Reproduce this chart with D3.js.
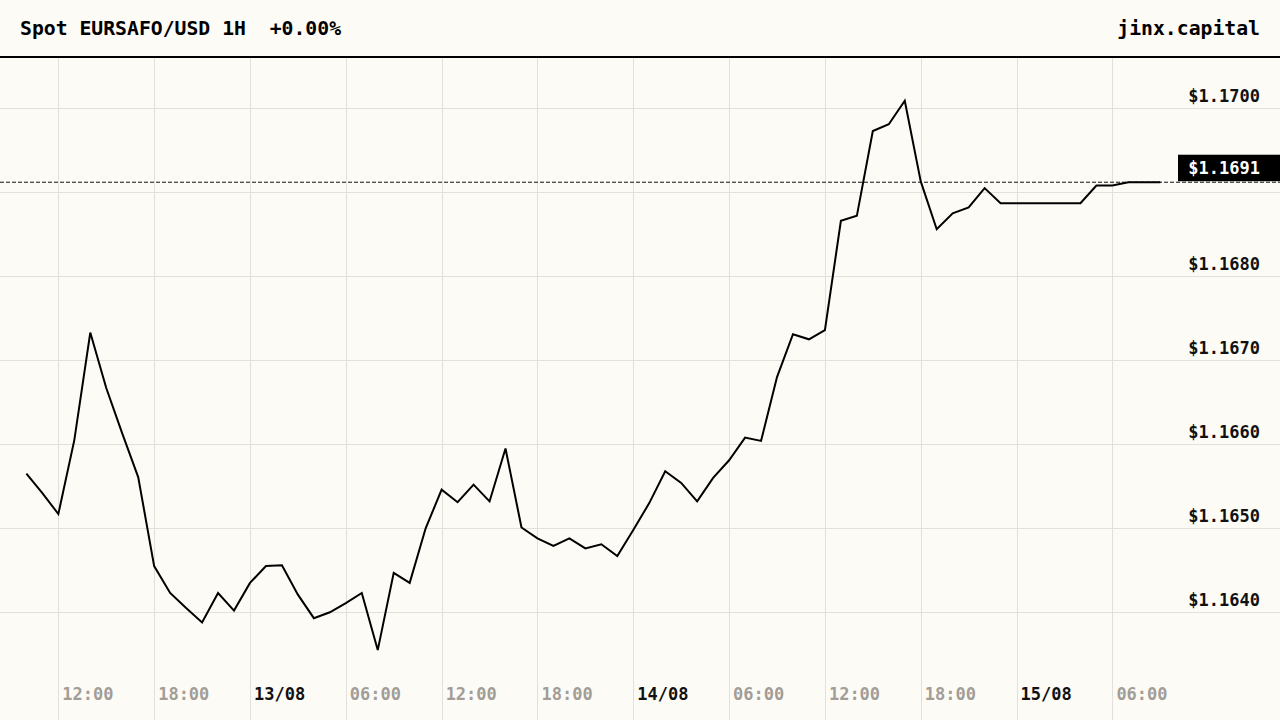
<!DOCTYPE html>
<html>
<head>
    <meta charset="utf-8">
    <script src="https://d3js.org/d3.v7.min.js"></script>
    <style>
        html, body {
            margin: 0;
            padding: 0;
            background-color: #fdfbf6;
        }
        svg text {
            font-family: 'DejaVu Sans Mono', monospace;
            font-weight: bold;
        }
    </style>
    <title>Spot EURSAFO/USD 1H</title>
</head>
<body>
    <svg id="chart" width="1280" height="720"></svg>

    <script>
        // hourly closes, 12/08 10:00 -> 15/08 09:00
        var priceValues = [
            1.16565, 1.16542, 1.16517, 1.16605, 1.16733, 1.16667, 1.16613, 1.16561,
            1.16455, 1.16423, 1.16405, 1.16388, 1.16423, 1.16402, 1.16435, 1.16455,
            1.16456, 1.16421, 1.16393, 1.16400, 1.16411, 1.16423, 1.16355, 1.16447,
            1.16435, 1.16500, 1.16546, 1.16531, 1.16552, 1.16532, 1.16595, 1.16501,
            1.16488, 1.16479, 1.16488, 1.16476, 1.16481, 1.16467, 1.16498, 1.16530,
            1.16568, 1.16554, 1.16532, 1.16560, 1.16581, 1.16608, 1.16604, 1.16680,
            1.16731, 1.16725, 1.16736, 1.16866, 1.16872, 1.16973, 1.16981, 1.17009,
            1.16913, 1.16856, 1.16875, 1.16882, 1.16905, 1.16887, 1.16887, 1.16887,
            1.16887, 1.16887, 1.16887, 1.16908, 1.16908, 1.16912, 1.16912, 1.16912
        ];
        var startHour = new Date(2025, 7, 12, 10);
        var hours = priceValues.map(function (d, i) {
            return d3.timeHour.offset(startHour, i);
        });
        var priceTicks = [1.1640, 1.1650, 1.1660, 1.1670, 1.1680, 1.1690, 1.1700];
        var titleText = "Spot EURSAFO/USD 1H\u00a0\u00a0+0.00%";
        var brandText = "jinx.capital";

        var width = 1280;
        var height = 720;
        var headerY = 57;

        var canvas = d3.select("#chart");

        var xScale = d3.scaleTime()
            .domain([hours[0], hours[hours.length - 1]])
            .range([26.4, 1160.3]);
        var yScale = d3.scaleLinear()
            .domain([1.1640, 1.1700])
            .range([612.3, 108.3]);

        var timeTicks = xScale.ticks(d3.timeHour.every(6));
        var isMidnight = function (t) { return t.getHours() === 0; };
        var fmtDay = d3.timeFormat("%d/%m");
        var fmtHour = d3.timeFormat("%H:%M");
        var fmtPrice = d3.format(".4f");

        var lastPrice = priceValues[priceValues.length - 1];
        var lastY = yScale(lastPrice);

        // grid
        canvas.append("g")
            .selectAll("line")
            .data(timeTicks)
            .enter().append("line")
            .attr("x1", function (d) { return Math.round(xScale(d)) + 0.5; })
            .attr("x2", function (d) { return Math.round(xScale(d)) + 0.5; })
            .attr("y1", headerY)
            .attr("y2", height)
            .attr("stroke", "#e3e0db")
            .attr("stroke-width", 1);

        canvas.append("g")
            .selectAll("line")
            .data(priceTicks)
            .enter().append("line")
            .attr("x1", 0)
            .attr("x2", width)
            .attr("y1", function (d) { return Math.round(yScale(d)) + 0.5; })
            .attr("y2", function (d) { return Math.round(yScale(d)) + 0.5; })
            .attr("stroke", "#e3e0db")
            .attr("stroke-width", 1);

        // price labels (the one under the last-price tag is hidden)
        canvas.append("g")
            .selectAll("text")
            .data(priceTicks.filter(function (d) {
                return Math.abs(yScale(d) - lastY) > 30;
            }))
            .enter().append("text")
            .attr("x", 1260)
            .attr("y", function (d) { return yScale(d) - 6; })
            .attr("text-anchor", "end")
            .attr("font-size", "17px")
            .attr("fill", "#111111")
            .text(function (d) { return "$" + fmtPrice(d); });

        // time labels
        canvas.append("g")
            .selectAll("text")
            .data(timeTicks)
            .enter().append("text")
            .attr("x", function (d) { return xScale(d) + 4; })
            .attr("y", 700)
            .attr("font-size", "17px")
            .attr("fill", function (d) { return isMidnight(d) ? "#111111" : "#a29d97"; })
            .text(function (d) { return isMidnight(d) ? fmtDay(d) : fmtHour(d); });

        // last price
        canvas.append("line")
            .attr("x1", 0)
            .attr("x2", width)
            .attr("y1", lastY)
            .attr("y2", lastY)
            .attr("stroke", "#111111")
            .attr("stroke-width", 1)
            .attr("stroke-dasharray", "4,2");

        canvas.append("path")
            .datum(priceValues)
            .attr("fill", "none")
            .attr("stroke", "#000000")
            .attr("stroke-width", 2)
            .attr("d", d3.line()
                .x(function (d, i) { return xScale(hours[i]); })
                .y(function (d) { return yScale(d); })
            );

        canvas.append("rect")
            .attr("x", 1178)
            .attr("y", lastY - 27.5)
            .attr("width", width - 1178)
            .attr("height", 26.5)
            .attr("fill", "#000000");

        canvas.append("text")
            .attr("x", 1260)
            .attr("y", lastY - 8.7)
            .attr("text-anchor", "end")
            .attr("font-size", "17px")
            .attr("fill", "#ffffff")
            .text("$" + fmtPrice(lastPrice));

        // header
        canvas.append("text")
            .attr("x", 20)
            .attr("y", 35)
            .attr("font-size", "19.75px")
            .attr("fill", "#000000")
            .text(titleText);

        canvas.append("text")
            .attr("x", 1260)
            .attr("y", 35)
            .attr("text-anchor", "end")
            .attr("font-size", "19.75px")
            .attr("fill", "#000000")
            .text(brandText);

        canvas.append("line")
            .attr("x1", 0)
            .attr("x2", width)
            .attr("y1", headerY)
            .attr("y2", headerY)
            .attr("stroke", "#000000")
            .attr("stroke-width", 2);
    </script>
</body>
</html>
